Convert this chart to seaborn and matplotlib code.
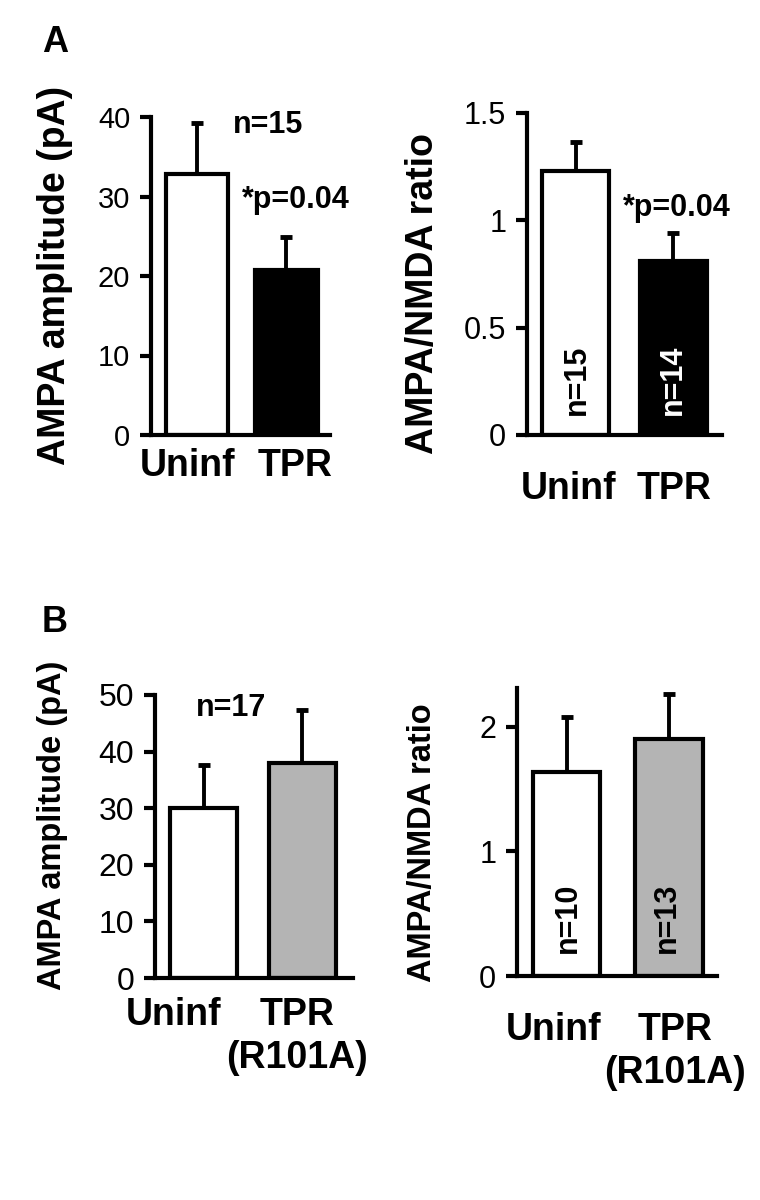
import numpy as np
import pandas as pd
import matplotlib
matplotlib.use("Agg")
import matplotlib.pyplot as plt
import matplotlib.transforms as mtransforms
import seaborn as sns

# data (mean and upper SEM)
groups_a = ["Uninf", "TPR"]
groups_b = ["Uninf", "TPR\n(R101A)"]

amp_a_mean = [32.8, 20.8]
amp_a_sem = [6.4, 4.1]
ratio_a_mean = [1.23, 0.81]
ratio_a_sem = [0.135, 0.13]

amp_b_mean = [30.0, 38.0]
amp_b_sem = [7.6, 9.3]
ratio_b_mean = [1.64, 1.90]
ratio_b_sem = [0.44, 0.365]

colors_a = ["white", "black"]
colors_b = ["white", "#b4b4b4"]

sns.set_style("ticks")
plt.rcParams['font.family'] = ['Liberation Sans', 'DejaVu Sans']
plt.rcParams['text.color'] = 'black'
plt.rcParams['axes.edgecolor'] = 'black'
plt.rcParams['xtick.color'] = 'black'
plt.rcParams['ytick.color'] = 'black'

W, H = 760, 1200
fig = plt.figure(figsize=(7.6, 12), dpi=100)


def px_axes(x0, x1, ytop, ybot):
    ax = fig.add_axes([x0 / W, 1 - ybot / H, (x1 - x0) / W, (ybot - ytop) / H])
    ax._px = (ytop, ybot)
    return ax


def bar_panel(ax, groups, means, sems, colors, width, ylim, yticks, yticklabels,
              xlim, tick_size):
    df = pd.DataFrame({"group": groups, "value": means})
    sns.barplot(data=df, x="group", y="value", hue="group", palette=colors,
                legend=False, edgecolor="black", linewidth=3, width=width,
                errorbar=None, ax=ax, zorder=2)
    ax.errorbar(x=[0, 1], y=means, yerr=[np.zeros(len(sems)), sems], fmt="none",
                ecolor="black", elinewidth=2.8, capsize=4.5, capthick=3.5, zorder=1)
    ax.set_ylim(*ylim)
    ax.set_xlim(*xlim)
    ax.set_yticks(yticks)
    ax.set_yticklabels(yticklabels, fontsize=tick_size)
    ax.set_xticks([])
    ax.set_xlabel("")
    ax.set_ylabel("")
    ax.tick_params(axis="y", length=8, width=3, pad=7, direction="out")
    sns.despine(ax=ax)
    for s in ["left", "bottom"]:
        ax.spines[s].set_linewidth(3)


def group_labels(ax, groups, xs, top_px, size=27):
    # category names under the axis, top edge given in figure pixels
    ytop, ybot = ax._px
    yax = -(top_px - ybot) / (ybot - ytop)
    trans = mtransforms.blended_transform_factory(ax.transData, ax.transAxes)
    for g, x in zip(groups, xs):
        ax.text(x, yax, g, transform=trans, ha="center", va="top", fontsize=size,
                fontweight="bold", linespacing=1.25, clip_on=False)


# panel A, amplitude
ax1 = px_axes(151, 330, 117, 435)
bar_panel(ax1, groups_a, amp_a_mean, amp_a_sem, colors_a, 0.70, (0, 40),
          [0, 10, 20, 30, 40], ["0", "10", "20", "30", "40"], (-0.52, 1.49), 21)
group_labels(ax1, groups_a, [-0.107, 1.096], 448)
ax1.text(0.80, 39, "n=15", ha="center", va="center", fontsize=22, fontweight="bold")
ax1.text(1.11, 29.6, "*p=0.04", ha="center", va="center", fontsize=22, fontweight="bold")

# panel A, ratio
ax2 = px_axes(527, 722, 113, 435)
bar_panel(ax2, groups_a, ratio_a_mean, ratio_a_sem, colors_a, 0.69, (0, 1.5),
          [0, 0.5, 1, 1.5], ["0", "0.5", "1", "1.5"], (-0.495, 1.495), 22)
group_labels(ax2, groups_a, [-0.07, 1.01], 471)
ax2.text(1.035, 1.057, "*p=0.04", ha="center", va="center", fontsize=22, fontweight="bold")
ax2.text(0.015, 0.256, "n=15", ha="center", va="center", rotation=90,
         fontsize=22, fontweight="bold", color="black")
ax2.text(0.995, 0.256, "n=14", ha="center", va="center", rotation=90,
         fontsize=22, fontweight="bold", color="white")

# panel B, amplitude
ax3 = px_axes(155, 353, 695, 978)
bar_panel(ax3, groups_b, amp_b_mean, amp_b_sem, colors_b, 0.68, (0, 50),
          [0, 10, 20, 30, 40, 50], ["0", "10", "20", "30", "40", "50"],
          (-0.497, 1.513), 23)
group_labels(ax3, groups_b, [-0.305, 0.944], 997)
ax3.text(0.28, 47.7, "n=17", ha="center", va="center", fontsize=22, fontweight="bold")

# panel B, ratio
ax4 = px_axes(517, 717, 688, 976)
bar_panel(ax4, groups_b, ratio_b_mean, ratio_b_sem, colors_b, 0.66, (0, 2.31),
          [0, 1, 2], ["0", "1", "2"], (-0.483, 1.468), 22)
group_labels(ax4, groups_b, [-0.13, 1.06], 1012)
ax4.text(0.015, 0.466, "n=10", ha="center", va="center", rotation=90,
         fontsize=22, fontweight="bold")
ax4.text(0.98, 0.466, "n=13", ha="center", va="center", rotation=90,
         fontsize=22, fontweight="bold")

# y labels and panel letters
ylabels = [("AMPA amplitude (pA)", 55, 275, 27), ("AMPA/NMDA ratio", 423, 294, 27),
           ("AMPA amplitude (pA)", 53, 825, 23.5), ("AMPA/NMDA ratio", 423, 843, 23.5)]
for txt, x, y, fs in ylabels:
    fig.text(x / W, 1 - y / H, txt, rotation=90, ha="center", va="center",
             fontsize=fs, fontweight="bold")

fig.text(55 / W, 1 - 43 / H, "A", ha="center", va="center", fontsize=26, fontweight="bold")
fig.text(55 / W, 1 - 623 / H, "B", ha="center", va="center", fontsize=26, fontweight="bold")

fig.savefig("out.png", dpi=100, facecolor="white")
